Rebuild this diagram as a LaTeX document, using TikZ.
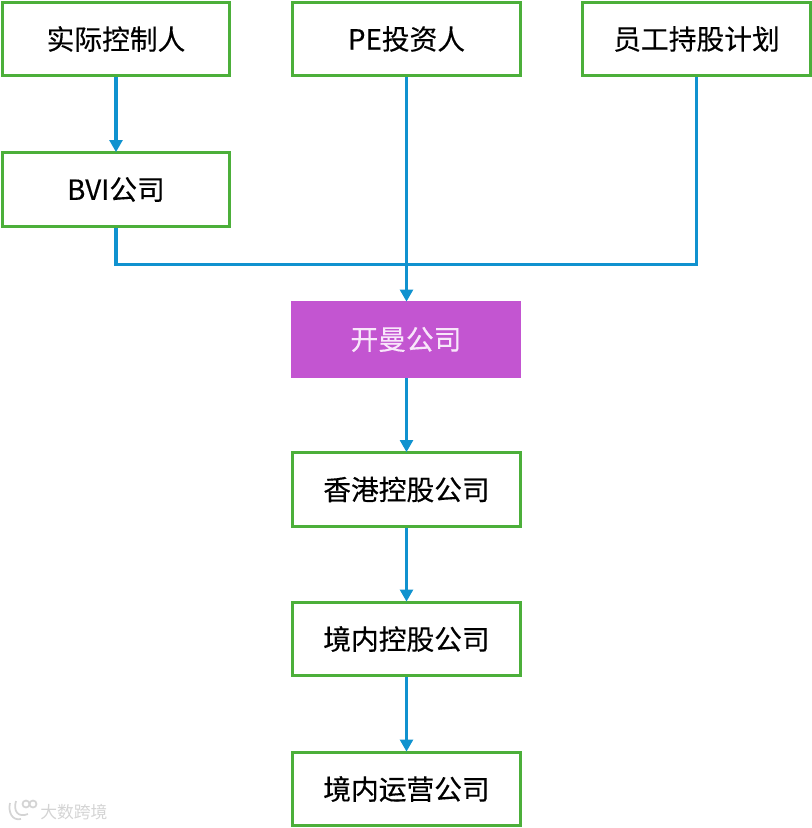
\documentclass[tikz,border=0pt]{standalone}
\usepackage{fontspec}
\setmainfont{Liberation Sans}
\newfontfamily\cjk[FakeBold=0.25]{Noto Sans CJK SC}
\newfontfamily\cjkplain{Noto Sans CJK SC}
\usetikzlibrary{arrows.meta,calc}
\tikzset{
 x=0.75pt,y=-0.75pt,
 gbox/.style={draw=boxgreen,line width=2.2pt,fill=white,minimum width=170.5pt,minimum height=55pt,inner sep=0pt,font=\cjk\fontsize{20.8pt}{24pt}\selectfont,text=black},
 pbox/.style={fill=boxpurple,minimum width=172.5pt,minimum height=57.5pt,inner sep=0pt,font=\cjk\fontsize{20.8pt}{24pt}\selectfont,text=boxtext},
 conn/.style={draw=linkblue,line width=2.4pt,-{Triangle[length=9pt,width=9.5pt]},shorten >=-0.6pt},
 seg/.style={draw=linkblue,line width=2.4pt},
 wmline/.style={draw=wm,line width=1.3pt,fill=none},
}
\definecolor{boxgreen}{HTML}{4CAF3A}
\definecolor{boxpurple}{HTML}{C355D1}
\definecolor{boxtext}{HTML}{F8E6FA}
\definecolor{linkblue}{HTML}{1092CF}
\definecolor{wm}{HTML}{D4D4D4}
\begin{document}
\begin{tikzpicture}
\useasboundingbox (0,0) rectangle (812,828);
\node[gbox] (a) at (116,39) {\raisebox{-0.7pt}{实际控制人}};
\node[gbox] (b) at (406.5,39) {\raisebox{-0.7pt}{PE投资人}};
\node[gbox] (c) at (696.5,39) {\raisebox{-0.7pt}{员工持股计划}};
\node[gbox] (d) at (116,189.5) {\raisebox{-0.7pt}{BVI公司}};
\node[pbox] (e) at (406,339.5) {\raisebox{-0.7pt}{开曼公司}};
\node[gbox] (f) at (406.5,489.5) {\raisebox{-0.7pt}{香港控股公司}};
\node[gbox] (g) at (406.5,639) {\raisebox{-0.7pt}{境内控股公司}};
\node[gbox] (h) at (406.5,789) {\raisebox{-0.7pt}{境内运营公司}};
\coordinate (j) at (406.5,264.5);
\draw[conn] (a) -- (d);
\draw[seg] (d.south) |- (j);
\draw[seg] (c.south) |- (j);
\draw[conn] (b.south) -- (b.south |- e.north);
\draw[conn] (f.north |- e.south) -- (f.north);
\draw[conn] (f) -- (g);
\draw[conn] (g) -- (h);
\draw[wmline] (10,803) .. controls (8,812) and (12,821) .. (21,819);
\draw[wmline] (16,801) .. controls (13,811) and (18,818) .. (28,814);
\draw[wmline] (26,804) circle[radius=3.5];
\draw[wmline] (33,804) circle[radius=3.5];
\node[text=wm,font=\cjkplain\fontsize{12.6pt}{15pt}\selectfont,anchor=west,inner sep=0pt] (w) at (40,812) {大数跨境};
\end{tikzpicture}
\end{document}
